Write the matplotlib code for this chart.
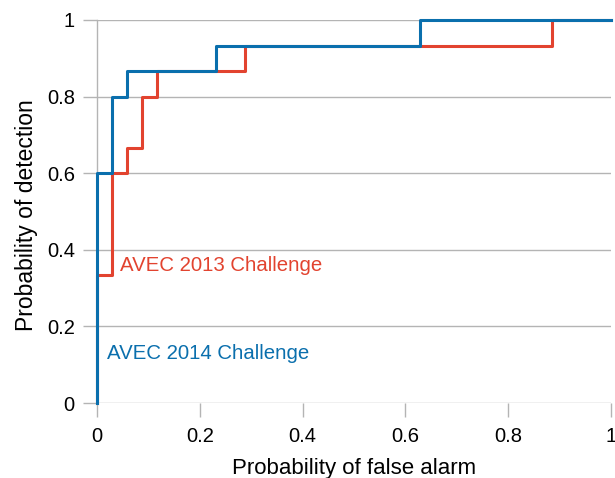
import matplotlib
matplotlib.use("Agg")
import matplotlib.pyplot as plt

# ROC step curves (false alarm, detection)
far_2013 = [0, 0, 0.03, 0.03, 0.059, 0.059, 0.087, 0.087, 0.116, 0.116, 0.287, 0.287, 0.886, 0.886, 1.0]
pd_2013 = [0, 0.333, 0.333, 0.6, 0.6, 0.667, 0.667, 0.8, 0.8, 0.867, 0.867, 0.933, 0.933, 1.0, 1.0]

far_2014 = [0, 0, 0.03, 0.03, 0.059, 0.059, 0.231, 0.231, 0.628, 0.628, 1.0]
pd_2014 = [0, 0.6, 0.6, 0.8, 0.8, 0.867, 0.867, 0.933, 0.933, 1.0, 1.0]

ticks = [0, 0.2, 0.4, 0.6, 0.8, 1]
tick_labels = ["0", "0.2", "0.4", "0.6", "0.8", "1"]

red = "#e2432f"
blue = "#0a6fad"
grey = "#b4b4b4"

plt.rcParams["font.family"] = ["Liberation Sans", "DejaVu Sans"]

fig = plt.figure(figsize=(6.15, 4.78), dpi=100)
ax = fig.add_axes([0.1577, 0.1569, 0.8358, 0.8013])

# horizontal grid drawn as lines so they run into the tick marks
for t in ticks:
    ax.axhline(t, color=grey, lw=1, zorder=1)

ax.plot(far_2013, pd_2013, color=red, lw=2.2, clip_on=False, zorder=3)
ax.plot(far_2014, pd_2014, color=blue, lw=2.2, clip_on=False, zorder=4)

ax.text(0.045, 0.358, "AVEC 2013 Challenge", color=red, fontsize=14.7, va="center")
ax.text(0.019, 0.128, "AVEC 2014 Challenge", color=blue, fontsize=14.7, va="center")

ax.set_xlim(0, 1)
ax.set_ylim(0, 1)
ax.set_xticks(ticks)
ax.set_xticklabels(tick_labels)
ax.set_yticks(ticks)
ax.set_yticklabels(tick_labels)

for s in ["top", "right", "bottom"]:
    ax.spines[s].set_visible(False)
ax.spines["left"].set_color(grey)
ax.spines["left"].set_linewidth(1)

ax.tick_params(axis="x", length=10, color=grey, width=1, pad=7, labelsize=14.5)
ax.tick_params(axis="y", length=10, color=grey, width=1, pad=6, labelsize=14.5)

ax.set_xlabel("Probability of false alarm", fontsize=16, labelpad=9)
ax.set_ylabel("Probability of detection", fontsize=16.5, labelpad=6)
ax.yaxis.label.set_y(0.49)

fig.savefig("out.png", dpi=100)
